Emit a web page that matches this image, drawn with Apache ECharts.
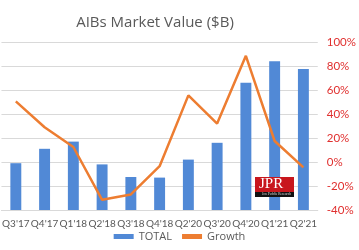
<!DOCTYPE html>
<html>
<head>
<meta charset="utf-8">
<script src="https://cdn.jsdelivr.net/npm/echarts@6/dist/echarts.min.js"></script>
<style>
  html, body { margin: 0; padding: 0; background: #fff; }
  #chart { width: 359px; height: 250px; }
</style>
</head>
<body>
<div id="chart"></div>
<script>
// quarters, total AIB market value ($B) and growth (%)
var quarters = ["Q3'17", "Q4'17", "Q1'18", "Q2'18", "Q3'18", "Q4'18", "Q2'20", "Q3'20", "Q4'20", "Q1'21", "Q2'21"];
var total = [3.9, 5.1, 5.7, 3.8, 2.75, 2.7, 4.2, 5.6, 10.6, 12.4, 11.75];
var growth = [50.5, 29, 12.5, -31.5, -27, -3.5, 55.5, 32, 88.5, 17.5, -4.5];

var narrow = '"Liberation Sans Narrow", Lato, sans-serif';

var chart = echarts.init(document.getElementById('chart'));
var option = {
  animation: false,
  title: {
    text: 'AIBs Market Value ($B)',
    left: 150, top: 10, textAlign: 'center',
    textStyle: { fontFamily: 'Open Sans', fontSize: 15, fontWeight: 'normal', color: '#595959' }
  },
  legend: {
    bottom: 3, left: 'center',
    itemWidth: 20, itemHeight: 5, itemGap: 10,
    textStyle: { fontFamily: 'Open Sans', fontSize: 11, color: '#595959' },
    data: [
      { name: 'TOTAL', icon: 'rect' },
      { name: 'Growth', icon: 'rect', itemStyle: { color: '#ED7D31' } }
    ]
  },
  grid: { left: -12, right: 35, top: 42, bottom: 40 },
  xAxis: {
    type: 'category',
    data: quarters,
    axisLine: { show: true, lineStyle: { color: '#d9d9d9' } },
    axisTick: { show: false },
    axisLabel: { color: '#595959', fontFamily: narrow, fontSize: 10, margin: 9, interval: 0 }
  },
  yAxis: [
    {
      type: 'value', min: 0, max: 14, interval: 2, show: false,
      splitLine: { show: false }
    },
    {
      type: 'value', position: 'right', min: -40, max: 100, interval: 20,
      axisLine: { show: false }, axisTick: { show: false },
      axisLabel: { color: '#e0302f', fontFamily: narrow, fontSize: 11.5, margin: 9,
        formatter: function (v) { return v + '%'; } },
      splitLine: { show: true, lineStyle: { color: '#d9d9d9', width: 1 } }
    }
  ],
  series: [
    {
      name: 'TOTAL', type: 'bar', yAxisIndex: 0, data: total,
      barWidth: '38%', itemStyle: { color: '#5189d6' }
    },
    {
      name: 'Growth', type: 'line', yAxisIndex: 1, data: growth,
      symbol: 'none', lineStyle: { color: '#ED7D31', width: 2.5 },
      itemStyle: { color: '#ED7D31' }
    }
  ],
  graphic: [
    { type: 'rect', left: 255, top: 177, shape: { width: 39, height: 16 }, style: { fill: '#c8161d' }, z: 100 },
    { type: 'rect', left: 255, top: 192, shape: { width: 39, height: 5 }, style: { fill: '#111' }, z: 100 },
    { type: 'text', left: 259, top: 177, style: { text: 'JPR', fill: '#fff', font: '15px "Liberation Serif"' }, z: 101 },
    { type: 'text', left: 262, top: 192, style: { text: 'Jon Peddie Research', fill: '#ddd', font: '3.5px "Liberation Serif"' }, z: 101 }
  ]
};
chart.setOption(option);
</script>
</body>
</html>
